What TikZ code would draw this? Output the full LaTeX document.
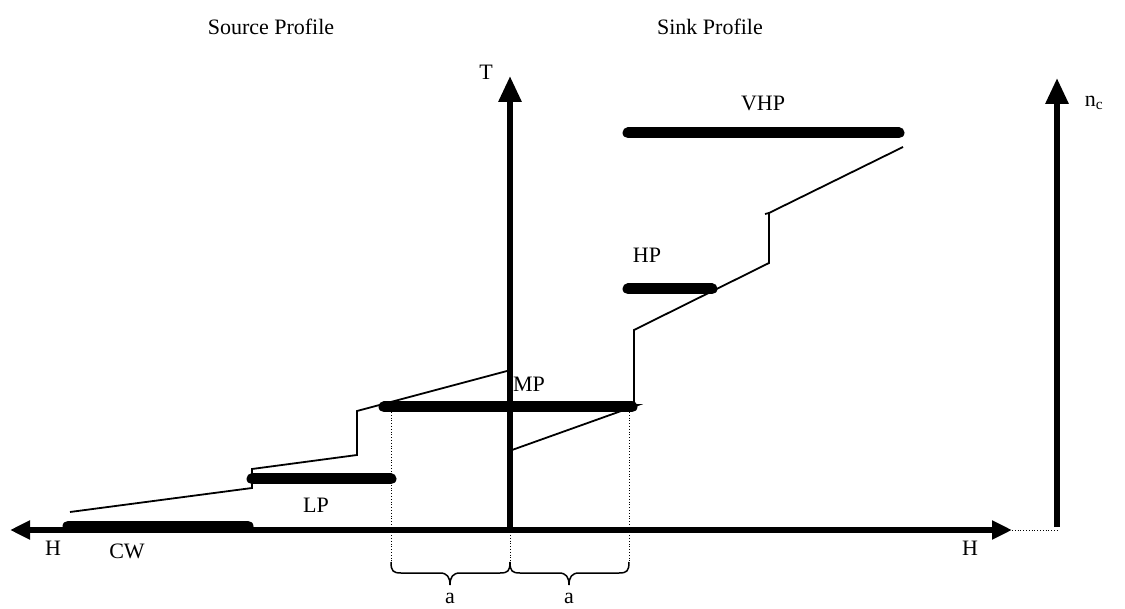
\documentclass[tikz,border=0pt]{standalone}
\usepackage{fontspec}
\setmainfont{Liberation Serif}
\usetikzlibrary{arrows.meta}
\begin{document}
\begin{tikzpicture}[x=1pt,y=-1pt,
  lbl/.style={font=\fontsize{22}{26}\selectfont, inner sep=0pt},
  bar/.style={line width=11pt, line cap=round},
  axis/.style={line width=6pt},
  prof/.style={line width=1.8pt},
  guide/.style={line width=0.8pt, dotted},
  br/.style={line width=1.5pt}]
\useasboundingbox (0,0) rectangle (1125,609);
% axes
\coordinate (hl) at (10,530);
\coordinate (hr) at (1012,530);
\coordinate (o) at (510,530);
\coordinate (tt) at (510,76);
\coordinate (nb) at (1057,530);
\coordinate (nt) at (1057,78);
\draw[axis, -{Triangle[width=18pt,length=20pt]}] (o) -- (hl);
\draw[axis, -{Triangle[width=18pt,length=20pt]}] (o) -- (hr);
\draw[axis, -{Triangle[width=22pt,length=26pt]}] ([yshift=3pt]o) -- (tt);
\draw[axis, -{Triangle[width=22pt,length=26pt]}] ([yshift=3pt]nb) -- (nt);
\draw[line width=0.8pt, dotted] (hr) -- (nb);
% bars
\draw[bar] (68,526) -- (248,526);
\draw[bar] (252,479) -- (391,479);
\draw[bar] (384,407) -- (632,407);
\draw[bar] (628,289) -- (712,289);
\draw[bar] (628,133) -- (899,133);
% source profile
\draw[prof] (70,512) -- (252,488) -- (252,469) -- (357,455) -- (357,411) -- (507,371);
% sink profile
\draw[prof] (512,450) -- (638,405) -- (634,405) -- (634,330) -- (769,263) -- (769,213) -- (903,147);
\draw[prof] (765,214) -- (769,213);
% guides
\coordinate (g1) at (391,562);
\coordinate (g2) at (510,562);
\coordinate (g3) at (629,562);
\draw[guide] (391,412) -- (g1);
\draw[guide] (629,412) -- (g3);
\draw[guide] (510,535) -- (g2);
% braces
\draw[br] (g1) .. controls (391,571) and (393,573) .. (401,573) -- (440,573)
  .. controls (447,573) and (450,577) .. (450,585)
  .. controls (450,577) and (453,573) .. (460,573) -- (500,573)
  .. controls (508,573) and (510,571) .. (g2);
\draw[br] (g2) .. controls (510,571) and (512,573) .. (520,573) -- (559,573)
  .. controls (566,573) and (569,577) .. (569,585)
  .. controls (569,577) and (572,573) .. (579,573) -- (619,573)
  .. controls (627,573) and (629,571) .. (g3);
% labels
\node[lbl] (src) at (271,27) {Source Profile};
\node[lbl] (snk) at (710,27) {Sink Profile};
\node[lbl] (tl) at (486,72) {T};
\node[lbl] (ncl) at (1094,103) {n\textsubscript{c}};
\node[lbl] (vhp) at (763,103) {VHP};
\node[lbl] (hp) at (647,255) {HP};
\node[lbl] (mp) at (529,384) {MP};
\node[lbl] (lp) at (316,505) {LP};
\node[lbl] (cw) at (127,551) {CW};
\node[lbl] (h1) at (53,548) {H};
\node[lbl] (h2) at (970,548) {H};
\node[lbl] (a1) at (450,598) {a};
\node[lbl] (a2) at (569,598) {a};
\end{tikzpicture}
\end{document}
